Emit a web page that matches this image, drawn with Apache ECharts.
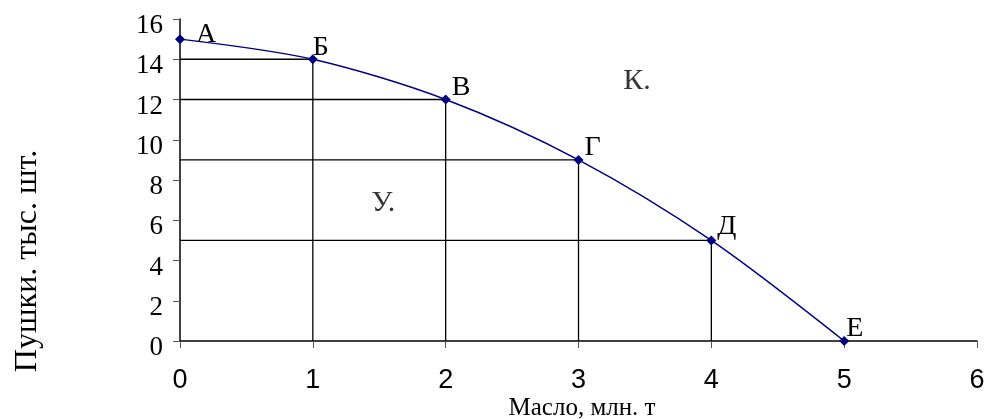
<!DOCTYPE html>
<html>
<head>
<meta charset="utf-8">
<script src="https://cdn.jsdelivr.net/npm/echarts@6/dist/echarts.min.js"></script>
<style>
    html, body { margin: 0; padding: 0; background: #fff; }
    #chart { width: 984px; height: 419px; }
</style>
</head>
<body>
<div id="chart"></div>
<script>
    // точки кривой производственных возможностей
    var pointNames = ['А', 'Б', 'В', 'Г', 'Д', 'Е'];
    var butter = [0, 1, 2, 3, 4, 5];
    var guns = [15, 14, 12, 9, 5, 0];
    // подписи областей
    var areaNames = ['К.', 'У.'];
    var areaX = [3.44, 1.53];
    var areaY = [12.9, 6.87];

    var serif = '"Liberation Serif", "Times New Roman", serif';
    var sans = '"Liberation Sans", Arial, sans-serif';
    // сдвиг подписей точек
    var labelShift = [[11, -4], [-5, -12], [1, -12], [1, -12], [1, -14], [-3, -12]];

    var curve = [];
    for (var i = 0; i < butter.length; i++) {
        curve.push({
            value: [butter[i], guns[i]],
            name: pointNames[i],
            label: {offset: labelShift[i]}
        });
    }

    var series = [];
    // вспомогательные линии к осям
    for (var i = 1; i < butter.length - 1; i++) {
        series.push({
            type: 'line',
            data: [[0, guns[i]], [butter[i], guns[i]], [butter[i], 0]],
            symbol: 'none',
            lineStyle: {color: '#000', width: 1.3},
            silent: true,
            z: 1
        });
    }
    series.push({
        type: 'line',
        data: curve,
        smooth: 0.3,
        symbol: 'diamond',
        symbolSize: 10,
        itemStyle: {color: '#000080'},
        lineStyle: {color: '#000080', width: 1.5},
        label: {
            show: true,
            position: 'right',
            distance: 0,
            formatter: function (p) { return p.name; },
            fontFamily: serif,
            fontSize: 28,
            color: '#000'
        },
        z: 3
    });
    var areaData = [];
    for (var i = 0; i < areaNames.length; i++) {
        areaData.push({value: [areaX[i], areaY[i]], name: areaNames[i]});
    }
    series.push({
        type: 'scatter',
        data: areaData,
        symbolSize: 0,
        label: {
            show: true,
            position: 'inside',
            formatter: function (p) { return p.name; },
            fontFamily: serif,
            fontSize: 30,
            color: '#000'
        }
    });

    var myChart = echarts.init(document.getElementById('chart'));
    var option = {
        animation: false,
        grid: {left: 180, right: 7, top: 19, bottom: 78, containLabel: false, outerBoundsMode: 'none'},
        graphic: [{
            type: 'text',
            x: 28, y: 261,
            rotation: Math.PI / 2,
            style: {
                text: 'Пушки. тыс. шт.',
                font: '32px ' + serif,
                fill: '#000',
                align: 'center',
                verticalAlign: 'middle'
            }
        }, {
            type: 'text',
            x: 582, y: 408,
            style: {
                text: 'Масло, млн. т',
                font: '25px ' + serif,
                fill: '#000',
                align: 'center',
                verticalAlign: 'middle'
            }
        }],
        xAxis: {
            type: 'value',
            min: 0, max: 6, interval: 1,
            axisLine: {lineStyle: {color: '#000', width: 1.5}},
            axisTick: {show: true, length: 7, lineStyle: {color: '#555'}},
            axisLabel: {fontFamily: sans, fontSize: 27, color: '#000', margin: 26},
            splitLine: {show: false}
        },
        yAxis: {
            type: 'value',
            min: 0, max: 16, interval: 2,
            axisLine: {show: true, lineStyle: {color: '#000', width: 1.5}},
            axisTick: {show: true, length: 7, lineStyle: {color: '#555'}},
            axisLabel: {fontFamily: serif, fontSize: 27, color: '#000', margin: 17, verticalAlign: 'top', lineHeight: 14},
            splitLine: {show: false}
        },
        series: series
    };
    myChart.setOption(option);
</script>
</body>
</html>
